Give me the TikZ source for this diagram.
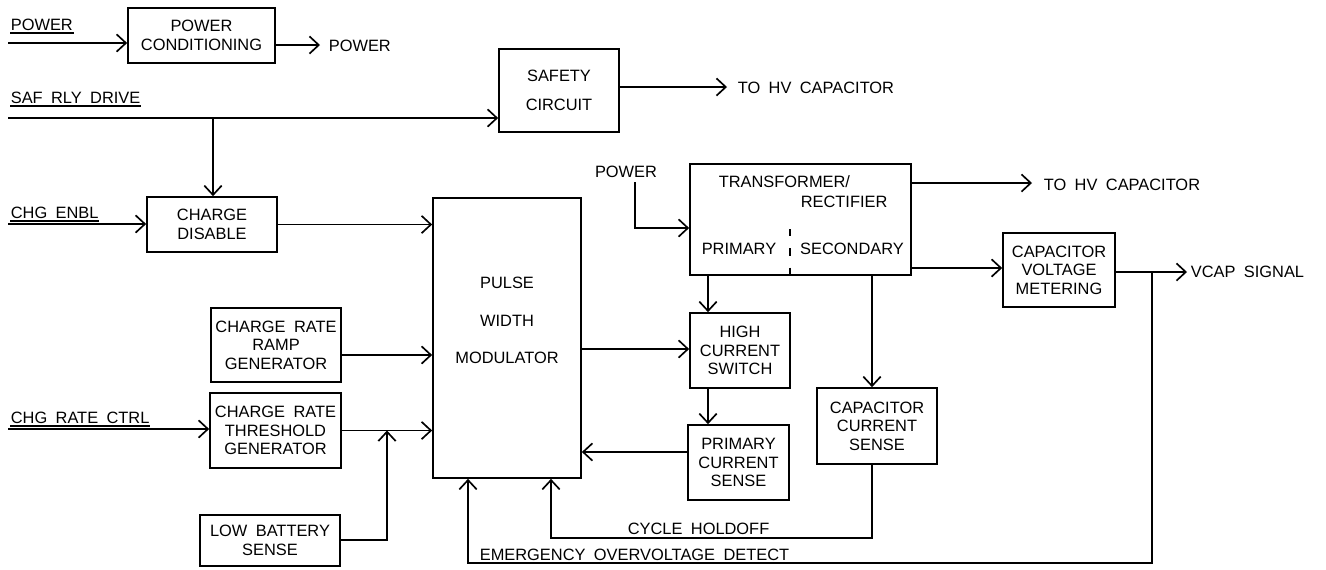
\documentclass[tikz,border=0pt]{standalone}
\usepackage{fontspec}
\setmainfont{Liberation Sans}
\usetikzlibrary{arrows.meta}
\newcommand{\diagfont}{\fontsize{12.3}{13.9}\selectfont\spaceskip=6.3pt\relax}
\begin{document}
\begin{tikzpicture}[x=0.75pt,y=-0.75pt,
  line width=1.25pt,
  every node/.style={font=\diagfont},
  box/.style 2 args={draw, rectangle, inner sep=0pt, align=center,
    minimum width=0.75pt*#1, minimum height=0.75pt*#2},
  arr/.style={-{Straight Barb[length=7pt,width=13pt]}},
  txt/.style={inner sep=0pt, anchor=west},
  ulbl/.style={inner xsep=0pt, inner ysep=1.5pt, anchor=south west},
]
\useasboundingbox (0,0) rectangle (1326,569);

% blocks
\node[box={147}{55}] (pc) at (201.5,35.5) {POWER\\CONDITIONING};
\node[box={120}{83}] (sc) at (559,90.5) {SAFETY\\[7.8pt]CIRCUIT};
\node[box={130}{55}] (cd) at (212,224.5) {CHARGE\\DISABLE};
\node[box={148}{280}] (pwm) at (507,338) {};
\node[inner sep=0pt, align=center] (pwmtxt) at (507,320.5) {PULSE\\[14.2pt]WIDTH\\[14.2pt]MODULATOR};
\node[box={130}{74}] (rg) at (276,345) {CHARGE RATE\\RAMP\\GENERATOR};
\node[box={131}{75}] (tg) at (275.5,430.5) {CHARGE RATE\\THRESHOLD\\GENERATOR};
\node[box={140}{51}] (lb) at (270,540.5) {LOW BATTERY\\SENSE};
\node[box={221}{111}] (tr) at (800.5,219.5) {};
\node[txt] (trt1) at (718,181.5) {TRANSFORMER/};
\node[txt] (trt2) at (800,201.5) {RECTIFIER};
\node[inner sep=0pt] (trp) at (739,248.5) {PRIMARY};
\node[inner sep=0pt] (trs) at (852,248.5) {SECONDARY};
\node[box={100}{75}] (hcs) at (740,350.5) {HIGH\\CURRENT\\SWITCH};
\node[box={101}{75}] (pcs) at (738.5,462.5) {PRIMARY\\CURRENT\\SENSE};
\node[box={120}{76}] (ccs) at (877,426) {CAPACITOR\\CURRENT\\SENSE};
\node[box={112}{74}] (cvm) at (1059,270) {CAPACITOR\\VOLTAGE\\METERING};

% dashed divider in transformer
\coordinate (dv) at (790,229);
\draw[dash pattern=on 5.5pt off 9pt] (dv) -- (dv |- tr.south);

% underlined input labels
\node[ulbl] (lpower) at (10,33) {POWER};
\draw (lpower.south west) -- (lpower.south east);
\node[ulbl] (lsaf) at (10,106) {SAF RLY DRIVE};
\draw (lsaf.south west) -- (lsaf.south east);
\node[ulbl] (lchg) at (10,221) {CHG ENBL};
\draw (lchg.south west) -- (lchg.south east);
\node[ulbl] (lrate) at (10,426) {CHG RATE CTRL};
\draw (lrate.south west) -- (lrate.south east);

% power conditioning
\coordinate (pin) at (8,43);
\draw[arr] (pin) -- (pin -| pc.west);
\coordinate (pout) at (320,45);
\draw[arr] (pc.east |- pout) -- (pout);
\node[txt] (lpout) at (328,46) {POWER};

% safety
\coordinate (sin) at (8,118);
\draw[arr] (sin) -- (sin -| sc.west);
\coordinate (j1) at (213,118);
\draw[arr] (j1) -- (j1 |- cd.north);
\coordinate (sout) at (727,87);
\draw[arr] (sc.east |- sout) -- (sout);
\node[txt] (lhv1) at (737,87.5) {TO HV CAPACITOR};

% charge disable
\coordinate (cin) at (8,224);
\draw[arr] (cin) -- (cin -| cd.west);
\draw[arr] (cd.east) -- (cd.east -| pwm.west);

% charge rate generators
\coordinate (rgy) at (0,355);
\draw[arr] (rg.east |- rgy) -- (pwm.west |- rgy);
\draw[arr] (tg.east) -- (tg.east -| pwm.west);
\coordinate (rin) at (8,429);
\draw[arr] (rin) -- (rin -| tg.west);
\coordinate (tgj) at (387,430.5);
\coordinate (lby) at (0,540);
\draw[arr] (lb.east |- lby) -| (tgj);

% PWM and switch
\coordinate (pwmo) at (0,349);
\draw[arr] (pwm.east |- pwmo) -- (hcs.west |- pwmo);
\coordinate (pcsy) at (0,452);
\draw[arr] (pcs.west |- pcsy) -- (pwm.east |- pcsy);

% transformer
\node[inner sep=0pt] (lpw2) at (626,171.5) {POWER};
\coordinate (trtop) at (635,182);
\coordinate (triy) at (0,228);
\draw[arr] (trtop) |- (tr.west |- triy);
\coordinate (hv2) at (1032,183);
\draw[arr] (tr.east |- hv2) -- (hv2);
\node[txt] (lhv2) at (1043,184.5) {TO HV CAPACITOR};
\coordinate (cvmy) at (0,268);
\draw[arr] (tr.east |- cvmy) -- (cvm.west |- cvmy);
\coordinate (px) at (708,0);
\draw[arr] (tr.south -| px) -- (hcs.north -| px);
\draw[arr] (hcs.south -| px) -- (pcs.north -| px);
\coordinate (sx) at (872,0);
\draw[arr] (tr.south -| sx) -- (ccs.north -| sx);

% outputs and feedback
\coordinate (vcap) at (1187,272);
\draw[arr] (cvm.east |- vcap) -- (vcap);
\node[txt] (lvcap) at (1190,271.5) {VCAP SIGNAL};
\coordinate (ej) at (1152,272);
\coordinate (eb) at (1152,563);
\coordinate (ex) at (468,0);
\draw[arr] (ej) -- (eb) -| (pwm.south -| ex);
\node[txt] (lemerg) at (479,555) {EMERGENCY OVERVOLTAGE DETECT};
\coordinate (cb) at (872,538);
\coordinate (cx) at (551,0);
\draw[arr] (ccs.south -| cb) -- (cb) -| (pwm.south -| cx);
\node[txt] (lcycle) at (627,528.5) {CYCLE HOLDOFF};
\end{tikzpicture}
\end{document}
